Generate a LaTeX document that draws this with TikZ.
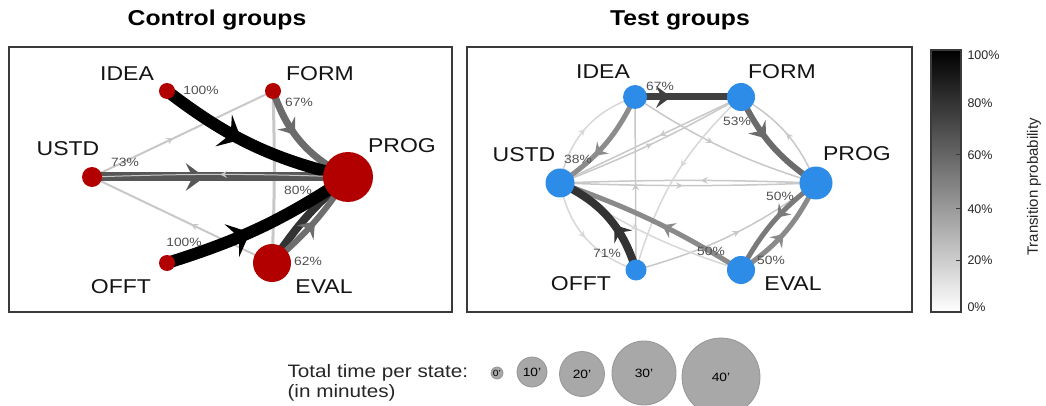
\documentclass[tikz,border=0pt]{standalone}
\usepackage{fontspec}
\setmainfont{Liberation Sans}[FakeStretch=1.15]
\newfontfamily\barfont{Liberation Sans}
\usetikzlibrary{arrows.meta,decorations.markings}
\pgfdeclarelayer{edges}
\pgfsetlayers{edges,main}

\definecolor{nodered}{RGB}{178,0,0}
\definecolor{nodeblue}{RGB}{45,140,232}
\definecolor{faint}{RGB}{200,200,200}
\definecolor{vfaint}{RGB}{215,215,215}
\definecolor{framegray}{RGB}{58,58,58}
\definecolor{pctgray}{RGB}{80,80,80}
\definecolor{legfill}{RGB}{168,168,168}
\definecolor{legline}{RGB}{150,150,150}

\tikzset{
  tipL/.tip={Stealth[length=20pt,width=36pt,inset=8pt,line width=0pt]},
  tipLM/.tip={Stealth[length=19pt,width=28pt,inset=7pt,line width=0pt]},
  tipM/.tip={Stealth[length=15pt,width=22pt,inset=5.5pt,line width=0pt]},
  tipMS/.tip={Stealth[length=12pt,width=17pt,inset=4.5pt,line width=0pt]},
  tipS/.tip={Stealth[length=7pt,width=7pt,inset=2.5pt,line width=0pt]},
  arrowat/.style 2 args={postaction={decorate,
      decoration={markings,mark=at position #1 with {\arrow{#2}}}}},
  rdot/.style={circle,fill=nodered,minimum size=#1,inner sep=0pt},
  bdot/.style={circle,fill=nodeblue,minimum size=#1,inner sep=0pt},
  legdot/.style={circle,fill=legfill,draw=legline,line width=0.8pt,
      minimum size=#1,inner sep=0pt,font=\fontsize{12}{12}\selectfont},
  statelab/.style={font=\fontsize{20}{22}\selectfont,text=black!92},
  pct/.style={font=\fontsize{12}{13}\selectfont,text=pctgray},
  title/.style={font=\fontsize{21.5}{24}\selectfont\bfseries},
  frame/.style={draw=framegray,line width=2pt},
  barlab/.style={anchor=west,font=\barfont\fontsize{12.5}{13}\selectfont,text=black!85},
  legtext/.style={anchor=west,font=\fontsize{18}{20}\selectfont,text=black!85},
}

\begin{document}
\begin{tikzpicture}[x=1pt,y=-1pt]
\useasboundingbox (0,0) rectangle (1046,406);

% ---------- titles ----------
\node[title] (t1) at (217,20) {Control groups};
\node[title] (t2) at (680,20) {Test groups};

% ---------- control group states ----------
\node[rdot=16] (lI) at (167,91) {};
\node[rdot=16] (lF) at (273,91) {};
\node[rdot=20] (lU) at (92,177) {};
\node[rdot=50] (lP) at (348,177) {};
\node[rdot=16] (lO) at (167,263) {};
\node[rdot=38] (lE) at (272,263) {};

\node[statelab] (lIt) at (127,74) {IDEA};
\node[statelab] (lFt) at (320,74) {FORM};
\node[statelab] (lUt) at (68,149) {USTD};
\node[statelab] (lPt) at (402,146) {PROG};
\node[statelab] (lOt) at (121,287) {OFFT};
\node[statelab] (lEt) at (324,287) {EVAL};

\node[pct] (lp1) at (201,90) {100\%};
\node[pct] (lp2) at (299,102) {67\%};
\node[pct] (lp3) at (125,162) {73\%};
\node[pct] (lp4) at (298,190) {80\%};
\node[pct] (lp5) at (184,242) {100\%};
\node[pct] (lp6) at (308,261) {62\%};

% ---------- test group states ----------
\node[bdot=24] (rI) at (635,97) {};
\node[bdot=28] (rF) at (741,97) {};
\node[bdot=29] (rU) at (560,183) {};
\node[bdot=33] (rP) at (816,183) {};
\node[bdot=21] (rO) at (636,270) {};
\node[bdot=28] (rE) at (741,270) {};

\node[statelab] (rIt) at (603,72) {IDEA};
\node[statelab] (rFt) at (782,72) {FORM};
\node[statelab] (rUt) at (524,155) {USTD};
\node[statelab] (rPt) at (857,154) {PROG};
\node[statelab] (rOt) at (581,284) {OFFT};
\node[statelab] (rEt) at (793,284) {EVAL};

\node[pct] (rp1) at (660,86) {67\%};
\node[pct] (rp2) at (737,121) {53\%};
\node[pct] (rp3) at (578,159) {38\%};
\node[pct] (rp4) at (780,196) {50\%};
\node[pct] (rp5) at (607,253) {71\%};
\node[pct] (rp6) at (711,251) {50\%};
\node[pct] (rp7) at (771,260) {50\%};

\begin{pgfonlayer}{edges}
  % panel frames
  \draw[frame] (9,47) rectangle (452,312);
  \draw[frame] (467,47) rectangle (912,312);

  % control: weak transitions
  \draw[color=faint,line width=2pt,arrowat={0.45}{tipS}] (lU.center) to (lF.center);
  \draw[color=faint,line width=3pt,arrowat={0.42}{tipS}] (lF.center) to[bend left=2] (lE.center);
  \draw[color=faint,line width=2pt,arrowat={0.45}{tipS}] (lE.center) to (lU.center);
  % control: strong transitions
  \draw[color=black!58,line width=7pt,arrowat={0.42}{tipM}] (lF.center) to[bend right=22] (lP.center);
  \draw[color=black!66,line width=9pt,arrowat={0.44}{tipLM}] (lU.center) to (lP.center);
  \draw[color=black!80,line width=8pt] (lP.center) to[bend right=8] (lE.center);
  \draw[color=black!57,line width=6pt,arrowat={0.52}{tipM}] (lE.center) to[bend right=8] (lP.center);
  \draw[color=black,line width=12pt,arrowat={0.44}{tipL}] (lI.center) to[bend right=12] (lP.center);
  \draw[color=black,line width=12pt,arrowat={0.44}{tipL}] (lO.center) to[bend right=8] (lP.center);
  \draw[color=faint,line width=1pt,arrowat={0.5}{tipS}] (lP.center) to[bend right=2] (lU.center);

  % test: weak transitions
  \draw[color=vfaint,line width=1.5pt,arrowat={0.5}{tipS}] (rU.center) to[bend left=30] (rI.center);
  \draw[color=vfaint,line width=1.5pt,arrowat={0.5}{tipS}] (rU.center) to[bend right=30] (rO.center);
  \draw[color=faint,line width=1.5pt,arrowat={0.5}{tipS}] (rO.center) to (rI.center);
  \draw[color=faint,line width=1.5pt,arrowat={0.48}{tipS}] (rU.center) to[bend right=2] (rP.center);
  \draw[color=faint,line width=1.5pt,arrowat={0.45}{tipS}] (rP.center) to[bend right=2] (rU.center);
  \draw[color=faint,line width=1.5pt,arrowat={0.45}{tipS}] (rF.center) to (rU.center);
  \draw[color=faint,line width=1.5pt,arrowat={0.5}{tipS}] (rU.center) to[bend right=4] (rF.center);
  \draw[color=faint,line width=1.5pt,arrowat={0.45}{tipS}] (rI.center) to[bend right=8] (rP.center);
  \draw[color=faint,line width=1.5pt,arrowat={0.5}{tipS}] (rP.center) to[bend right=18] (rF.center);
  \draw[color=vfaint,line width=1.5pt,arrowat={0.45}{tipS}] (rF.center) to[bend right=15] (rO.center);
  \draw[color=faint,line width=1.5pt,arrowat={0.55}{tipS}] (rO.center) to[bend right=10] (rP.center);
  \draw[color=vfaint,line width=1.5pt,arrowat={0.45}{tipS}] (rU.center) to[bend right=8] (rE.center);
  % test: strong transitions
  \draw[color=black!45,line width=5pt,arrowat={0.62}{tipMS}] (rI.center) to[bend left=15] (rU.center);
  \draw[color=black!46,line width=5pt,arrowat={0.45}{tipMS}] (rE.center) to[bend right=6] (rU.center);
  \draw[color=black!80,line width=8pt,arrowat={0.42}{tipM}] (rO.center) to[bend right=24] (rU.center);
  \draw[color=black!58,line width=6pt,arrowat={0.42}{tipM}] (rF.center) to[bend right=15] (rP.center);
  \draw[color=black!52,line width=5pt,arrowat={0.45}{tipMS}] (rP.center) to[bend right=12] (rE.center);
  \draw[color=black!46,line width=5pt,arrowat={0.48}{tipMS}] (rE.center) to[bend right=15] (rP.center);
  \draw[color=black!75,line width=7pt,arrowat={0.34}{tipM}] (rI.center) to (rF.center);
\end{pgfonlayer}

% ---------- colour bar ----------
\shade[top color=black,bottom color=white] (931,50) rectangle (961,312);
\draw[color=framegray,line width=1.5pt] (931,50) rectangle (961,312);
\foreach \yy in {155,208,260} \draw[color=framegray,line width=1pt] (956,\yy) -- (961,\yy);
\node[barlab] (c100) at (964,55) {100\%};
\node[barlab] (c80) at (964,103) {80\%};
\node[barlab] (c60) at (964,155) {60\%};
\node[barlab] (c40) at (964,209) {40\%};
\node[barlab] (c20) at (964,260) {20\%};
\node[barlab] (c0) at (964,307) {0\%};
\node[rotate=90,font=\barfont\fontsize{15}{16}\selectfont,text=black!85] (cbt) at (1034,187) {Transition probability};

% ---------- time legend ----------
\node[legtext] (lg1) at (284,373) {Total time per state:};
\node[legtext] (lg2) at (284,393) {(in minutes)};
\node[legdot=12,font=\fontsize{9}{9}\selectfont] (s0) at (497,373) {0'};
\node[legdot=30] (s10) at (532,372) {10'};
\node[legdot=45] (s20) at (582,374) {20'};
\node[legdot=64] (s30) at (644,373) {30'};
\node[legdot=78] (s40) at (721,377) {40'};
\end{tikzpicture}
\end{document}
